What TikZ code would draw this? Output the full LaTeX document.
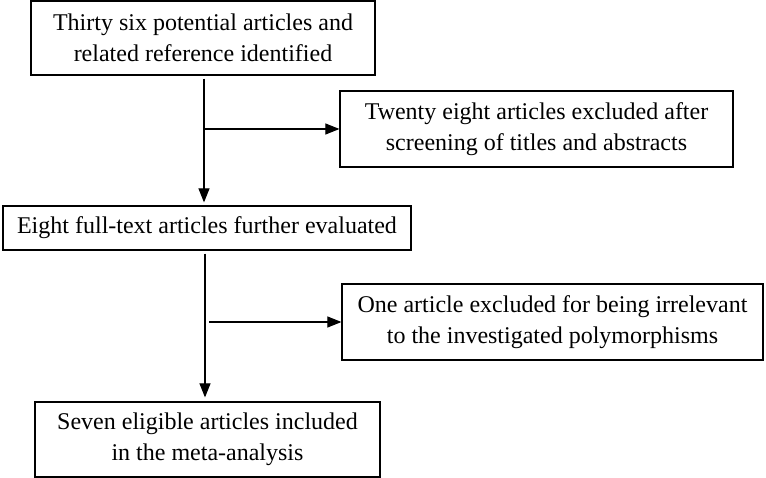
\documentclass[tikz,border=0pt]{standalone}
\usepackage{fontspec}
\setmainfont{Liberation Serif}
\usetikzlibrary{arrows.meta}
\begin{document}
\begin{tikzpicture}[x=1pt,y=-1pt,
  box/.style={draw, line width=1.2pt, inner sep=0pt, align=center, font=\fontsize{24}{31}\selectfont},
  arr/.style={-{Triangle[length=14pt,width=11pt]}, line width=1.1pt}]
\useasboundingbox[fill=white] (0,0) rectangle (766,478);
\node[box, minimum width=344pt, minimum height=74pt] (top) at (203,38) {Thirty six potential articles and\\related reference identified};
\node[box, minimum width=393pt, minimum height=76pt] (r1) at (536.5,129) {Twenty eight articles excluded after\\screening of titles and abstracts};
\node[box, minimum width=408pt, minimum height=44pt] (mid) at (207,228) {Eight full-text articles further evaluated};
\node[box, minimum width=421pt, minimum height=76pt] (r2) at (552.5,322) {One article excluded for being irrelevant\\to the investigated polymorphisms};
\node[box, minimum width=345pt, minimum height=75pt] (bot) at (207.5,439.5) {Seven eligible articles included\\in the meta-analysis};
\path (top.south) ++(1,3) coordinate (a1);
\draw[arr, shorten >=3pt] (a1) -- (a1 |- mid.north);
\draw[arr] (a1 |- r1.west) -- (r1.west);
\path (mid.south) ++(-2,3) coordinate (a2);
\draw[arr, shorten >=4pt] (a2) -- (a2 |- bot.north);
\draw[arr] ([xshift=4pt]a2 |- r2.west) -- (r2.west);
\end{tikzpicture}
\end{document}
